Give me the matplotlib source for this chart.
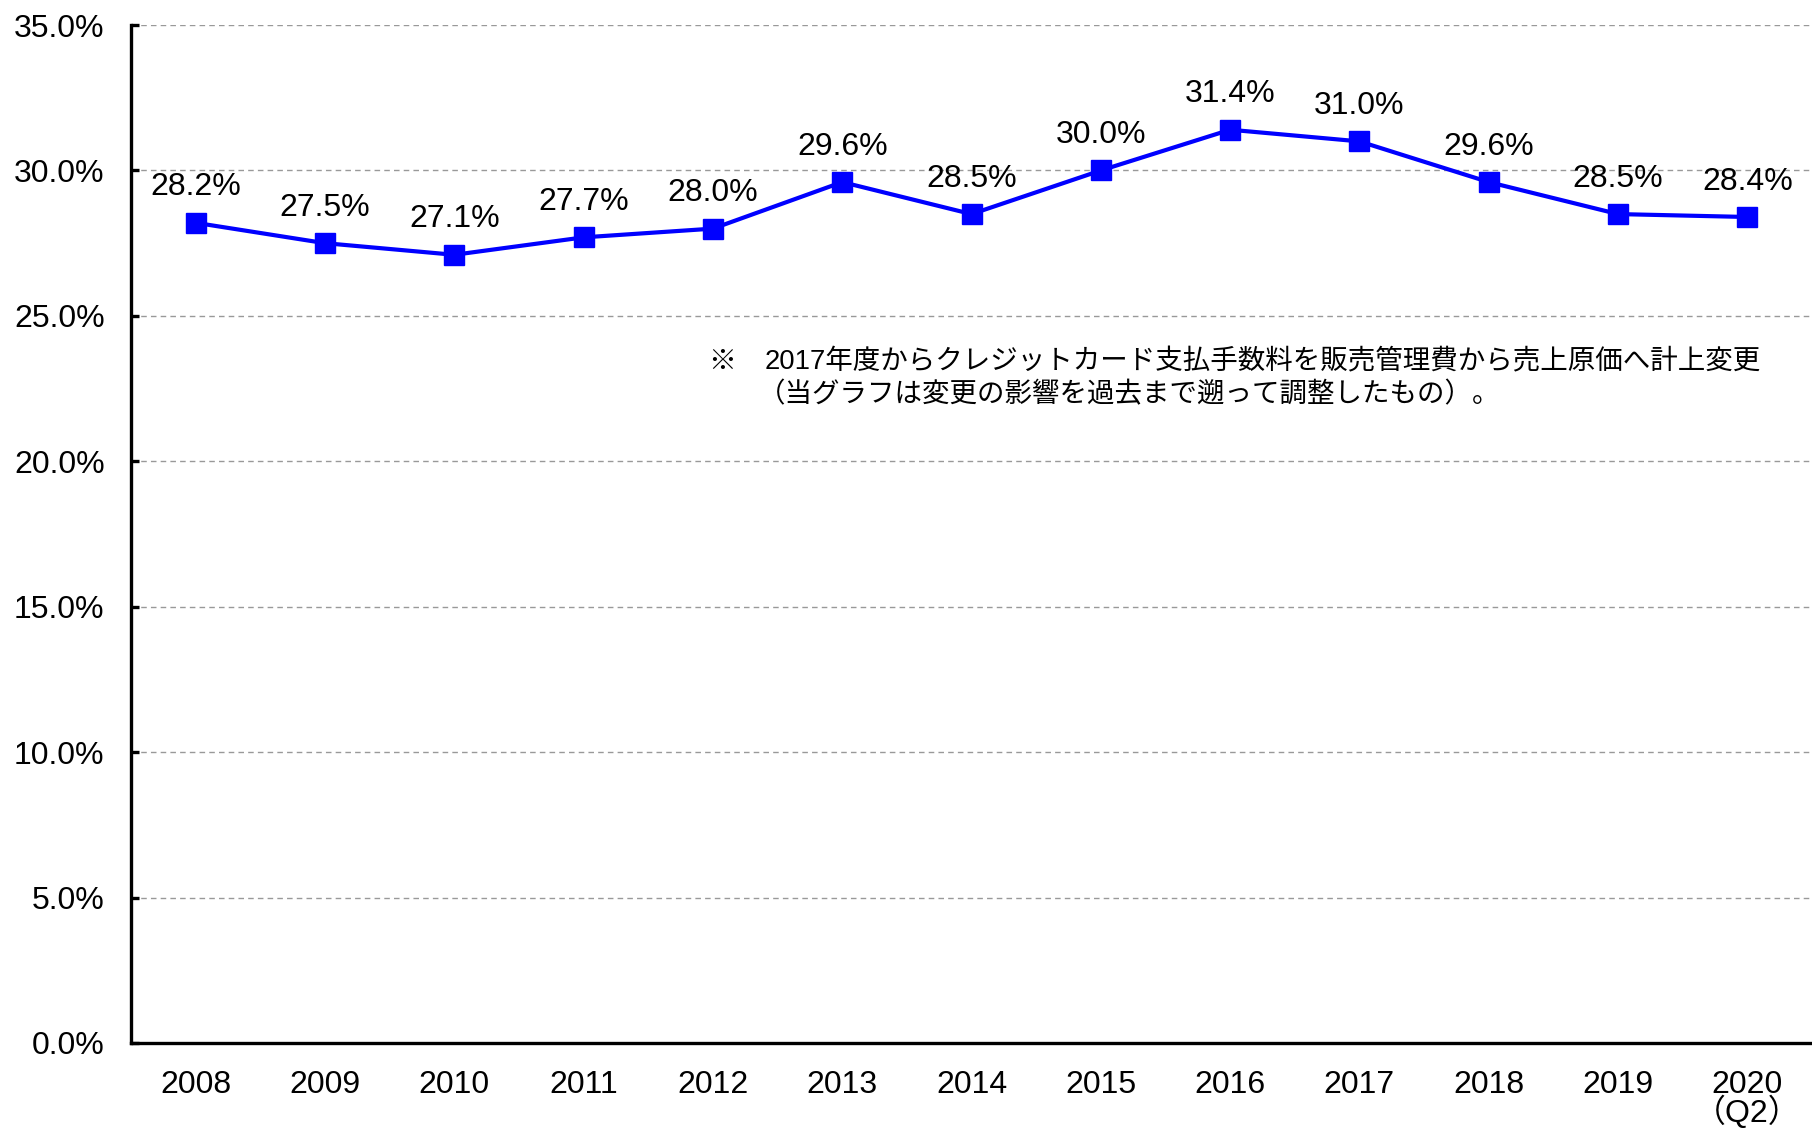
import matplotlib.pyplot as plt
from matplotlib.ticker import FuncFormatter

years = ['2008', '2009', '2010', '2011', '2012', '2013', '2014',
         '2015', '2016', '2017', '2018', '2019', '2020\n（Q2）']
ratio = [28.2, 27.5, 27.1, 27.7, 28.0, 29.6, 28.5, 30.0, 31.4, 31.0, 29.6, 28.5, 28.4]
yticks = [0, 5, 10, 15, 20, 25, 30, 35]
note1 = '2017年度からクレジットカード支払手数料を販売管理費から売上原価へ計上変更'
note2 = '（当グラフは変更の影響を過去まで遡って調整したもの）。'

plt.rcParams['font.family'] = ['Liberation Sans', 'Noto Sans CJK JP']

fig = plt.figure(figsize=(18.12, 11.28), dpi=100)
ax = fig.add_axes([0.0723, 0.0754, 0.9277, 0.9024])

x = list(range(len(years)))
ax.plot(x, ratio, color='#0000ff', lw=3, marker='s', ms=14, zorder=3)
for i, v in zip(x, ratio):
    ax.annotate(f'{v:.1f}%', (i, v), xytext=(0, 25.5), textcoords='offset points',
                ha='center', va='center', fontsize=23)

ax.set_xlim(-0.5, 12.5)
ax.set_ylim(0, 35)
ax.set_yticks(yticks)
ax.yaxis.set_major_formatter(FuncFormatter(lambda v, p: f'{v:.1f}%'))
ax.set_xticks(x)
ax.set_xticklabels(years, linespacing=0.85)
ax.grid(axis='y', ls=(0, (4, 3)), color='#999999', lw=1)
ax.set_axisbelow(True)

ax.spines['top'].set_visible(False)
ax.spines['right'].set_visible(False)
ax.spines['left'].set_linewidth(2.4)
ax.spines['bottom'].set_linewidth(2.4)
ax.tick_params(axis='y', direction='in', length=6, width=2.4, labelsize=23, pad=19)
ax.tick_params(axis='x', length=0, labelsize=23, pad=19.5)

fig.text(0.391, 0.679, '※', fontsize=20, va='center', family='Noto Sans CJK JP')
fig.text(0.422, 0.679, note1, fontsize=19.8, va='center', family=['Liberation Sans', 'Noto Sans CJK JP'])
fig.text(0.418, 0.650, note2, fontsize=19.8, va='center', family='Noto Sans CJK JP')

fig.savefig('out.png', dpi=100)
